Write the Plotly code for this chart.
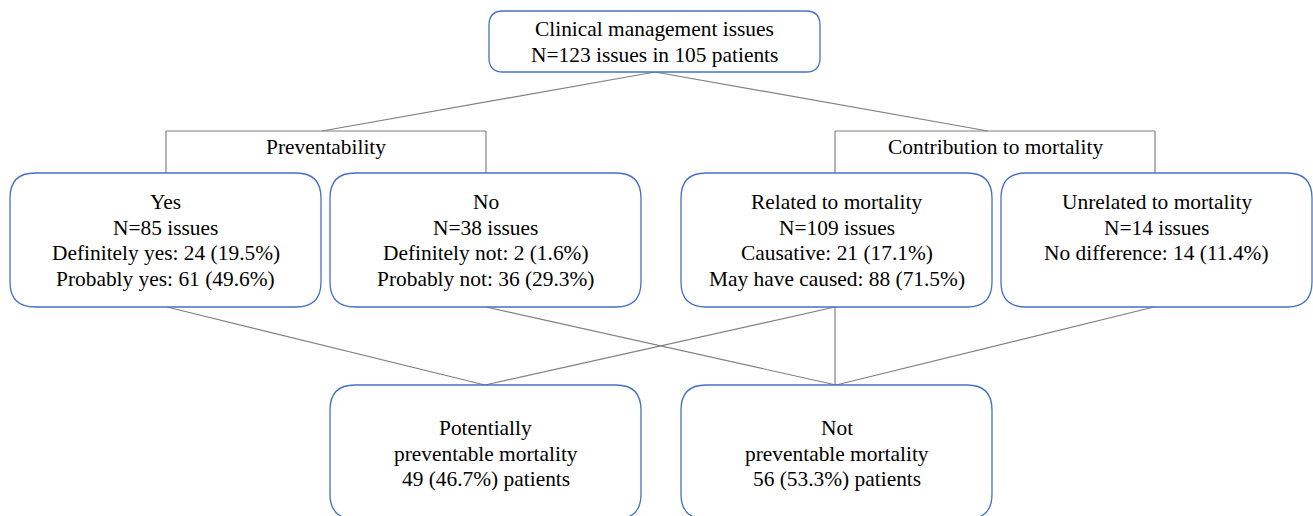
import plotly.graph_objects as go

# ---- data (text content) ----
top_lines = ["Clinical management issues", "N=123 issues in 105 patients"]
group_labels = ["Preventability", "Contribution to mortality"]
yes_lines = ["Yes", "N=85 issues", "Definitely yes: 24 (19.5%)", "Probably yes: 61 (49.6%)"]
no_lines = ["No", "N=38 issues", "Definitely not: 2 (1.6%)", "Probably not: 36 (29.3%)"]
related_lines = ["Related to mortality", "N=109 issues", "Causative: 21 (17.1%)", "May have caused: 88 (71.5%)"]
unrelated_lines = ["Unrelated to mortality", "N=14 issues", "No difference: 14 (11.4%)"]
ppm_lines = ["Potentially", "preventable mortality", "49 (46.7%) patients"]
npm_lines = ["Not", "preventable mortality", "56 (53.3%) patients"]

# ---- layout (positions in pixel-like coordinates) ----
W, H = 1313, 516
BOX_COLOR = "#4472C4"
LINE_COLOR = "#808080"
FONT = dict(family="Liberation Serif", size=21.4, color="black")
LS = 25.7

boxes = [
    # x0, x1, y0, y1, lines, first line y, radius
    (489, 820, 11, 72, top_lines, 29, 14),
    (10, 321, 173, 307, yes_lines, 202, 25),
    (330, 641, 173, 307, no_lines, 202, 25),
    (681, 992, 173, 307, related_lines, 202, 25),
    (1001, 1312, 173, 307, unrelated_lines, 202, 25),
    (330, 641, 385, 519, ppm_lines, 428, 25),
    (681, 992, 385, 519, npm_lines, 428, 25),
]


def rrect(x0, x1, y0, y1, r):
    return (f"M {x0+r},{y0} L {x1-r},{y0} Q {x1},{y0} {x1},{y0+r} "
            f"L {x1},{y1-r} Q {x1},{y1} {x1-r},{y1} L {x0+r},{y1} "
            f"Q {x0},{y1} {x0},{y1-r} L {x0},{y0+r} Q {x0},{y0} {x0+r},{y0} Z")


fig = go.Figure()
shapes = []
annotations = []

# connector lines
segments = [
    ((655, 72), (322, 131)),
    ((655, 72), (988, 131)),
    # left bracket
    ((166, 131), (486, 131)),
    ((166, 131), (166, 173)),
    ((486, 131), (486, 173)),
    # right bracket
    ((835, 131), (1155, 131)),
    ((835, 131), (835, 173)),
    ((1155, 131), (1155, 173)),
    # lower connectors
    ((167, 307), (485, 385)),
    ((486, 307), (836, 385)),
    ((835, 307), (485, 385)),
    ((835, 307), (835, 385)),
    ((1154, 307), (836, 385)),
]
for (a, b) in segments:
    shapes.append(dict(type="line", xref="x", yref="y", x0=a[0], y0=a[1], x1=b[0], y1=b[1],
                       line=dict(color=LINE_COLOR, width=1.2), layer="below"))

for x0, x1, y0, y1, lines, ty, r in boxes:
    shapes.append(dict(type="path", xref="x", yref="y", path=rrect(x0, x1, y0, y1, r),
                       line=dict(color=BOX_COLOR, width=1.3), fillcolor="white", layer="above"))
    cx = (x0 + x1) / 2
    for i, t in enumerate(lines):
        annotations.append(dict(x=cx, y=ty + i * LS, xref="x", yref="y", text=t,
                                showarrow=False, font=FONT, xanchor="center", yanchor="middle"))

for label, cx in zip(group_labels, [326, 995]):
    annotations.append(dict(x=cx, y=147, xref="x", yref="y", text=label, showarrow=False,
                            font=FONT, xanchor="center", yanchor="middle"))

fig.update_layout(
    width=W, height=H,
    margin=dict(l=0, r=0, t=0, b=0),
    paper_bgcolor="white", plot_bgcolor="white",
    font=FONT,
    xaxis=dict(range=[0, W], visible=False, fixedrange=True),
    yaxis=dict(range=[H, 0], visible=False, fixedrange=True),
    shapes=shapes, annotations=annotations, showlegend=False,
)

fig.write_html("out.html", config={"displayModeBar": False},
               post_script="document.body.style.margin='0';document.body.style.overflow='hidden';")
